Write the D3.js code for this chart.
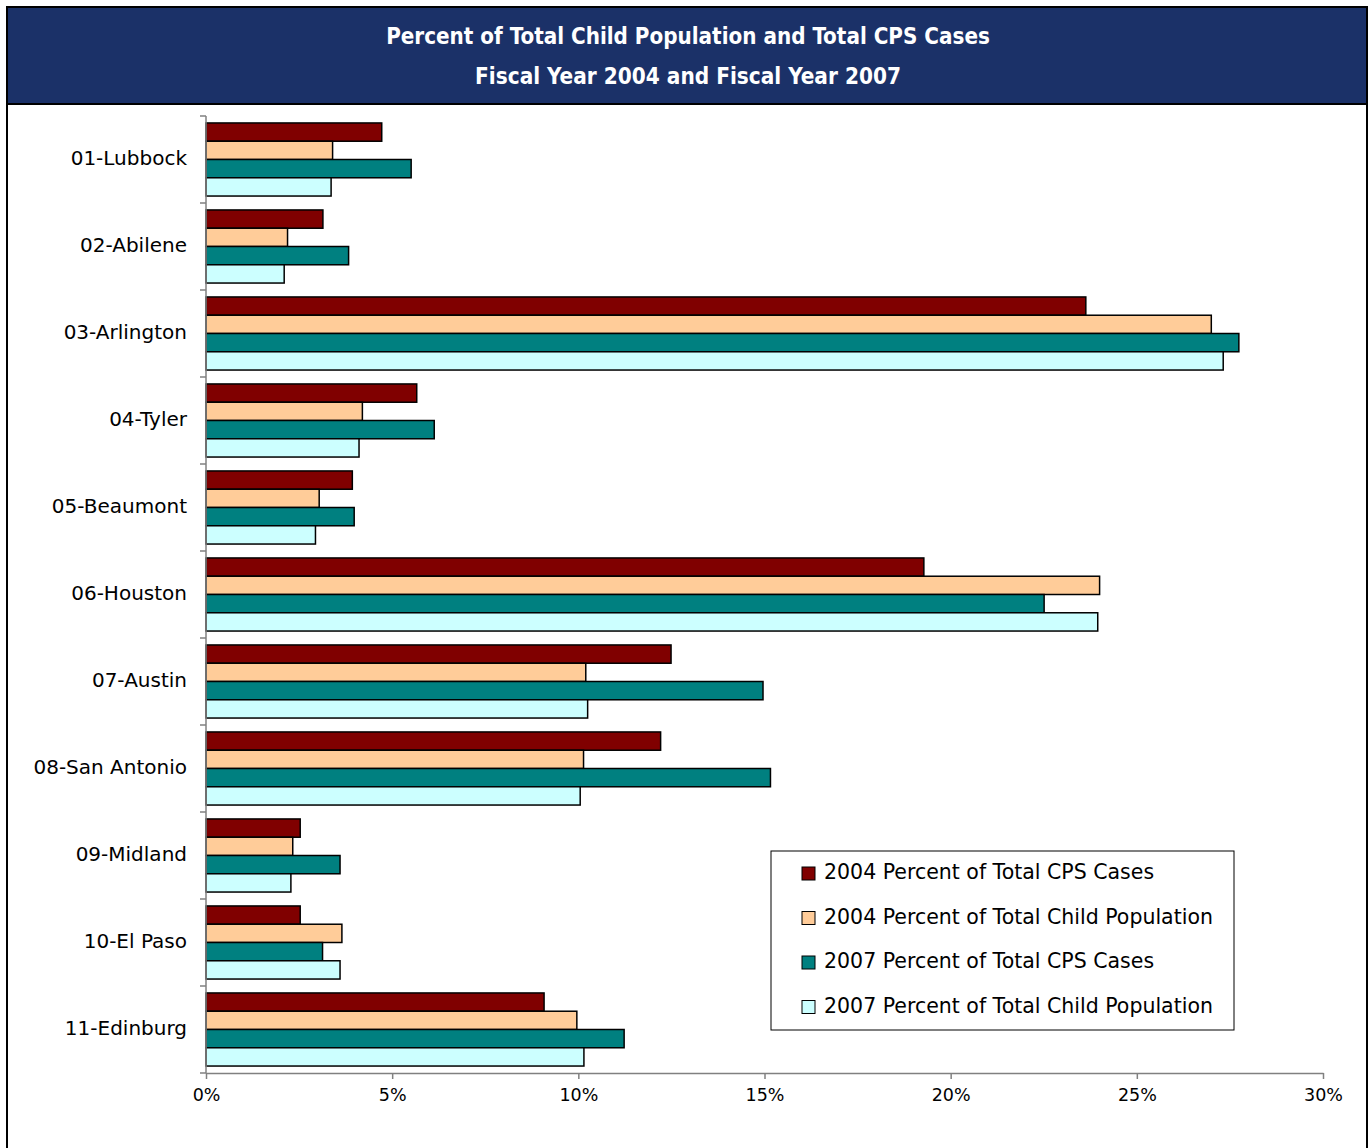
<!DOCTYPE html>
<html>
<head>
<meta charset="utf-8">
<script src="https://cdn.jsdelivr.net/npm/d3@7"></script>
<style>
  html, body { margin: 0; padding: 0; background: #ffffff; }
  svg { display: block; }
  text { font-family: "DejaVu Sans", Verdana, sans-serif; }
</style>
</head>
<body>
<svg id="chart" width="1369" height="1148"></svg>
<script>
const titleLines = ["Percent of Total Child Population and Total CPS Cases", "Fiscal Year 2004 and Fiscal Year 2007"];
const categories = ["01-Lubbock", "02-Abilene", "03-Arlington", "04-Tyler", "05-Beaumont", "06-Houston", "07-Austin", "08-San Antonio", "09-Midland", "10-El Paso", "11-Edinburg"];
const seriesNames = ["2004 Percent of Total CPS Cases", "2004 Percent of Total Child Population", "2007 Percent of Total CPS Cases", "2007 Percent of Total Child Population"];
const cps2004 = [4.72, 3.14, 23.63, 5.66, 3.93, 19.28, 12.49, 12.21, 2.53, 2.53, 9.08];
const pop2004 = [3.40, 2.19, 27.00, 4.20, 3.04, 24.00, 10.20, 10.14, 2.33, 3.65, 9.96];
const cps2007 = [5.51, 3.83, 27.74, 6.13, 3.98, 22.51, 14.96, 15.16, 3.60, 3.13, 11.23];
const pop2007 = [3.36, 2.10, 27.32, 4.11, 2.94, 23.95, 10.25, 10.05, 2.28, 3.60, 10.15];
const xTicks = [0, 5, 10, 15, 20, 25, 30];
const colors = ["#800000", "#FFCC99", "#008080", "#CCFFFF"];

const seriesValues = [cps2004, pop2004, cps2007, pop2007];

const svg = d3.select("#chart");

// Outer frame and header
svg.append("rect").attr("x", 7).attr("y", 7).attr("width", 1360).attr("height", 1150)
  .attr("fill", "#ffffff").attr("stroke", "#000000").attr("stroke-width", 2);
svg.append("rect").attr("x", 7).attr("y", 7).attr("width", 1360).attr("height", 97)
  .attr("fill", "#1B3168").attr("stroke", "#000000").attr("stroke-width", 2);

svg.selectAll("text.title").data(titleLines).join("text")
  .attr("class", "title")
  .attr("x", 688).attr("y", (d, i) => 37 + i * 40)
  .attr("text-anchor", "middle").attr("dominant-baseline", "middle")
  .attr("fill", "#ffffff").attr("font-size", 20).attr("font-weight", "bold")
  .style("font-family", "'DejaVu Sans Condensed', 'DejaVu Sans', sans-serif")
  .style("font-stretch", "normal")
  .text(d => d);

// fit title width to the reference measurement
svg.selectAll("text.title").each(function(d, i) {
  const target = i === 0 ? 604 : 426;
  const w = this.getComputedTextLength();
  if (w > 0) d3.select(this).attr("font-size", 20 * target / w);
});

// Scales
const margin = {left: 206, right: 1323, top: 116, bottom: 1073};
const x = d3.scaleLinear().domain([0, 30]).range([margin.left, margin.right]);
const y0 = d3.scaleBand().domain(categories).range([margin.top, margin.bottom]).padding(0);
const bw = y0.bandwidth();
const y1 = d3.scaleBand().domain(d3.range(4)).range([bw * 0.08, bw * 0.92]).padding(0);

// Bars
const rows = categories.map((c, i) => ({cat: c, vals: seriesValues.map((s, k) => ({k, v: s[i]}))}));
const g = svg.append("g");
const groups = g.selectAll("g.cat").data(rows).join("g")
  .attr("class", "cat")
  .attr("transform", d => `translate(0,${y0(d.cat)})`);
groups.selectAll("rect").data(d => d.vals).join("rect")
  .attr("x", x(0))
  .attr("y", d => y1(d.k))
  .attr("width", d => x(d.v) - x(0))
  .attr("height", y1.bandwidth())
  .attr("fill", d => colors[d.k])
  .attr("stroke", "#000000").attr("stroke-width", 1.5);

// Y axis
const yAxisG = svg.append("g");
yAxisG.append("line").attr("x1", x(0)).attr("x2", x(0)).attr("y1", margin.top).attr("y2", margin.bottom)
  .attr("stroke", "#808080").attr("stroke-width", 1.5);
const bounds = categories.map(c => y0(c)).concat([margin.bottom]);
yAxisG.selectAll("line.tick").data(bounds).join("line").attr("class", "tick")
  .attr("x1", x(0) - 6).attr("x2", x(0)).attr("y1", d => d).attr("y2", d => d)
  .attr("stroke", "#808080").attr("stroke-width", 1.5);
yAxisG.selectAll("text").data(categories).join("text")
  .attr("x", 187).attr("y", d => y0(d) + bw / 2)
  .attr("text-anchor", "end").attr("dominant-baseline", "middle")
  .attr("font-size", 20).attr("fill", "#000000")
  .text(d => d);

// X axis
const xAxis = d3.axisBottom(x).tickValues(xTicks).tickFormat(d => d + "%").tickSize(6).tickSizeOuter(0);
const xg = svg.append("g").attr("transform", `translate(0,${margin.bottom})`).call(xAxis);
xg.select(".domain").attr("stroke", "#808080").attr("stroke-width", 1.5);
xg.selectAll(".tick line").attr("stroke", "#808080").attr("stroke-width", 1.5);
xg.selectAll(".tick text").attr("font-size", 17.5).attr("fill", "#000000").attr("dy", "1.1em")
  .style("font-family", "'DejaVu Sans', sans-serif");

// Legend
const lg = svg.append("g").attr("transform", "translate(771,851)");
lg.append("rect").attr("width", 463).attr("height", 179).attr("fill", "#ffffff").attr("stroke", "#000000").attr("stroke-width", 1);
const items = lg.selectAll("g.item").data(seriesNames).join("g").attr("class", "item")
  .attr("transform", (d, i) => `translate(0,${22 + i * 44.5})`);
items.append("rect").attr("x", 31).attr("y", -6).attr("width", 13).attr("height", 13)
  .attr("fill", (d, i) => colors[i]).attr("stroke", "#000000").attr("stroke-width", 1);
items.append("text").attr("x", 53).attr("y", 0).attr("dominant-baseline", "middle")
  .attr("font-size", 20.5).attr("fill", "#000000").text(d => d);
</script>
</body>
</html>
